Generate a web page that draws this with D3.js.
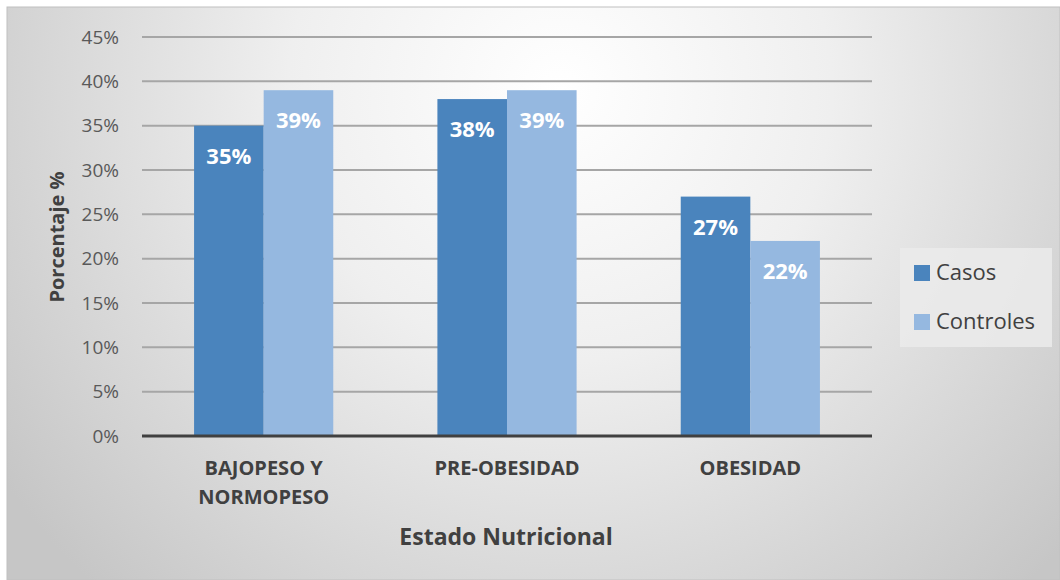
<!DOCTYPE html>
<html><head><meta charset="utf-8">
<script src="https://cdn.jsdelivr.net/npm/d3@7"></script>
<style>html,body{margin:0;padding:0;background:#fff;}svg{display:block;}</style>
</head><body>
<svg id="c" width="1060" height="580"></svg>
<script>
const categories = [["BAJOPESO Y","NORMOPESO"],["PRE-OBESIDAD"],["OBESIDAD"]];
const categoryKeys = ["BAJOPESO Y NORMOPESO","PRE-OBESIDAD","OBESIDAD"];
const seriesNames = ["Casos","Controles"];
const casos = [35, 38, 27];
const controles = [39, 39, 22];
const yTicks = [0,5,10,15,20,25,30,35,40,45];
const colors = ["#4a84bd","#95b8e0"];

const svg = d3.select("#c");
const font = "'Open Sans', 'DejaVu Sans', sans-serif";
const defs = svg.append("defs");
const g1 = defs.append("radialGradient").attr("id","bg").attr("gradientUnits","userSpaceOnUse")
  .attr("cx",560).attr("cy",90).attr("r",680);
g1.append("stop").attr("offset","0").attr("stop-color","#ffffff");
g1.append("stop").attr("offset","0.4").attr("stop-color","#efefef");
g1.append("stop").attr("offset","1").attr("stop-color","#c6c6c6");
svg.append("rect").attr("x",7).attr("y",7).attr("width",1053).attr("height",573)
  .attr("fill","url(#bg)").attr("stroke","#c0c0c0").attr("stroke-width",1);

const x0 = d3.scaleBand().domain(categoryKeys).range([142,872]).paddingInner(0.428).paddingOuter(0.214);
const x1 = d3.scaleBand().domain(seriesNames).range([0,x0.bandwidth()]);
const y = d3.scaleLinear().domain([0,45]).range([436,37]);

// gridlines
svg.append("g").selectAll("line").data(yTicks.filter(d=>d>0)).join("line")
  .attr("x1",142).attr("x2",872).attr("y1",d=>y(d)).attr("y2",d=>y(d))
  .attr("stroke","#a6a6a6").attr("stroke-width",2);

// y axis labels
const yAxis = d3.axisLeft(y).tickValues(yTicks).tickFormat(d=>d+"%").tickSize(0).tickPadding(23);
const ya = svg.append("g").attr("transform","translate(142,0)").call(yAxis);
ya.select(".domain").remove();
ya.selectAll("text").attr("font-family",font).attr("font-size",19).attr("fill","#595959");

// bars
const data = categoryKeys.map((k,i)=>({k, vals:[casos[i],controles[i]]}));
const grp = svg.append("g").selectAll("g").data(data).join("g")
  .attr("transform",d=>`translate(${x0(d.k)},0)`);
grp.selectAll("rect").data(d=>d.vals.map((v,j)=>({v,s:seriesNames[j],j}))).join("rect")
  .attr("x",d=>x1(d.s)).attr("width",x1.bandwidth())
  .attr("y",d=>y(d.v)).attr("height",d=>y(0)-y(d.v))
  .attr("fill",d=>colors[d.j]);
grp.selectAll("text").data(d=>d.vals.map((v,j)=>({v,s:seriesNames[j],j}))).join("text")
  .attr("x",d=>x1(d.s)+x1.bandwidth()/2).attr("y",d=>y(d.v)+38)
  .attr("text-anchor","middle").attr("font-family",font).attr("font-weight","bold")
  .attr("font-size",22).attr("fill","#ffffff").text(d=>d.v+"%");

// x axis
const xAxis = d3.axisBottom(x0).tickSize(0).tickFormat(()=>"");
const xa = svg.append("g").attr("transform",`translate(0,${y(0)})`).call(xAxis);
xa.select(".domain").attr("stroke","#404040").attr("stroke-width",3).attr("d","M142,0H872");
xa.selectAll(".tick").each(function(d,i){
  const t = d3.select(this).append("text").attr("fill","#404040").attr("font-family",font)
    .attr("font-weight","bold").attr("font-size",20).attr("text-anchor","middle");
  categories[i].forEach((line,li)=>{
    t.append("tspan").attr("x",0).attr("y",39+li*29).text(line);
  });
});

// axis titles
svg.append("text").attr("x",506).attr("y",545).attr("text-anchor","middle")
  .attr("font-family",font).attr("font-weight","bold").attr("font-size",23).attr("fill","#404040")
  .text("Estado Nutricional");
svg.append("text").attr("transform","translate(64,237) rotate(-90)").attr("text-anchor","middle")
  .attr("font-family",font).attr("font-weight","bold").attr("font-size",20).attr("fill","#404040")
  .text("Porcentaje %");

// legend
const lg = svg.append("g");
lg.append("rect").attr("x",900).attr("y",248).attr("width",152).attr("height",99)
  .attr("fill","#ebebeb").attr("opacity",0.85);
seriesNames.forEach((s,i)=>{
  lg.append("rect").attr("x",914).attr("y",265+i*49).attr("width",16).attr("height",16).attr("fill",colors[i]);
  lg.append("text").attr("x",936).attr("y",280+i*49).attr("font-family",font).attr("font-size",22)
    .attr("fill","#404040").text(s);
});
</script>
</body></html>
